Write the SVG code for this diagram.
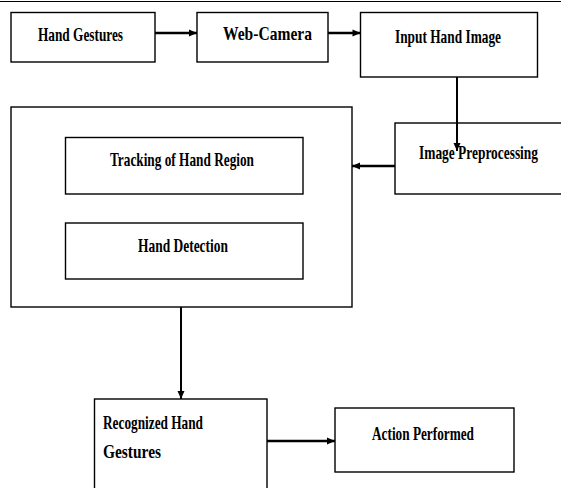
<svg xmlns="http://www.w3.org/2000/svg" width="561" height="488" viewBox="0 0 561 488">
<style>
.box{fill:#fff;stroke:#000;stroke-width:1.4}
.lbl{font-family:"Liberation Serif","Times New Roman",serif;font-weight:bold;font-size:19.5px;fill:#000}
.conn{stroke:#000;fill:none}
</style>
<defs>
<marker id="ah" markerUnits="userSpaceOnUse" markerWidth="10" markerHeight="10" viewBox="0 0 10 10" refX="9" refY="5" orient="auto">
<path d="M1,1.5 L9,5 L1,8.5 Z" fill="#000"/>
</marker>
</defs>
<line x1="0" y1="1.5" x2="561" y2="1.5" stroke="#000" stroke-width="1.2"/>
<g id="hand-gestures">
<rect class="box" x="11" y="12.5" width="144" height="49.5"/>
<text class="lbl" x="38" y="41" textLength="85" lengthAdjust="spacingAndGlyphs">Hand Gestures</text>
</g>
<g id="web-camera">
<rect class="box" x="197" y="12.5" width="131" height="49.5"/>
<text class="lbl" x="223" y="40" textLength="89" lengthAdjust="spacingAndGlyphs">Web-Camera</text>
</g>
<g id="input-hand-image">
<rect class="box" x="360.5" y="12.5" width="177" height="64.5"/>
<text class="lbl" x="395" y="43" textLength="106" lengthAdjust="spacingAndGlyphs">Input Hand Image</text>
</g>
<g id="image-preprocessing">
<rect class="box" x="395" y="123" width="170" height="71"/>
<text class="lbl" x="419" y="159" textLength="119" lengthAdjust="spacingAndGlyphs">Image Preprocessing</text>
</g>
<g id="tracking-detection-group">
<rect class="box" x="11" y="107" width="341" height="200"/>
</g>
<g id="tracking">
<rect class="box" x="65.5" y="137.5" width="237.5" height="56.5"/>
<text class="lbl" x="110" y="166" textLength="144" lengthAdjust="spacingAndGlyphs">Tracking of Hand Region</text>
</g>
<g id="hand-detection">
<rect class="box" x="65.5" y="223" width="237.5" height="56"/>
<text class="lbl" x="138" y="252" textLength="90" lengthAdjust="spacingAndGlyphs">Hand Detection</text>
</g>
<g id="recognized">
<rect class="box" x="94.5" y="399" width="172.5" height="92"/>
<text class="lbl" x="103" y="429" textLength="100" lengthAdjust="spacingAndGlyphs">Recognized Hand</text>
<text class="lbl" x="103" y="458" textLength="58" lengthAdjust="spacingAndGlyphs">Gestures</text>
</g>
<g id="action-performed">
<rect class="box" x="335" y="408" width="179" height="64"/>
<text class="lbl" x="372" y="440" textLength="102" lengthAdjust="spacingAndGlyphs">Action Performed</text>
</g>
<g id="connectors">
<line class="conn" x1="155" y1="33" x2="197" y2="33" stroke-width="2.7" marker-end="url(#ah)"/>
<line class="conn" x1="328" y1="33" x2="360.5" y2="33" stroke-width="2.7" marker-end="url(#ah)"/>
<line class="conn" x1="457" y1="77" x2="457" y2="151" stroke-width="2" marker-end="url(#ah)"/>
<line class="conn" x1="395" y1="166" x2="352" y2="166" stroke-width="2.7" marker-end="url(#ah)"/>
<line class="conn" x1="181" y1="307" x2="181" y2="399" stroke-width="2" marker-end="url(#ah)"/>
<line class="conn" x1="267" y1="441" x2="335" y2="441" stroke-width="2.7" marker-end="url(#ah)"/>
</g>
</svg>
